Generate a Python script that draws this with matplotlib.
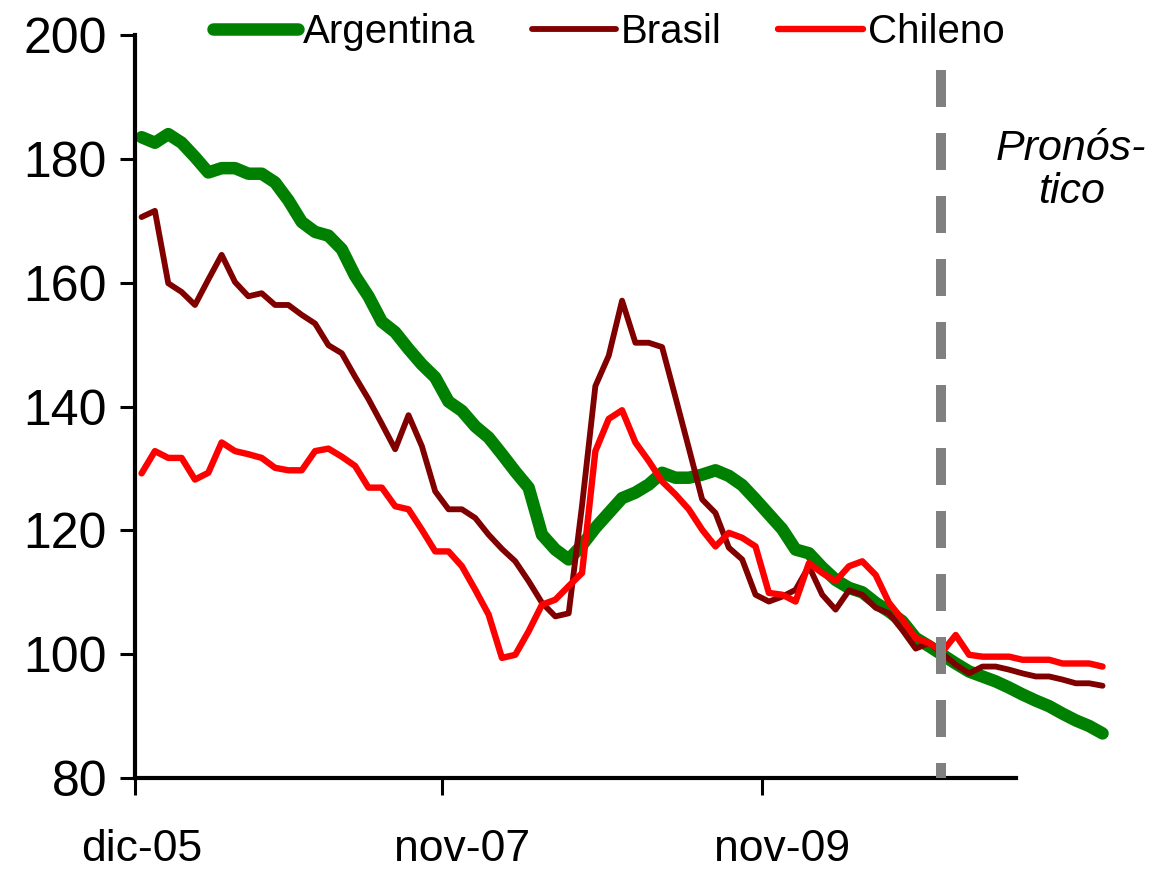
import matplotlib
matplotlib.use("Agg")
import matplotlib.pyplot as plt
import numpy as np

plt.rcParams['font.family'] = ['Liberation Sans', 'DejaVu Sans']

# monthly index values, dic-05 .. dic-11
argentina = [183.5, 182.6, 184.0, 182.6, 180.3, 177.8, 178.5, 178.5, 177.6, 177.6,
             176.2, 173.3, 169.8, 168.2, 167.6, 165.4, 161.1, 157.8, 153.7, 152.0,
             149.3, 146.8, 144.7, 140.8, 139.3, 136.8, 135.0, 132.3, 129.5, 126.9,
             119.3, 116.9, 115.3, 117.6, 120.4, 122.8, 125.2, 126.1, 127.4, 129.3,
             128.5, 128.5, 129.0, 129.7, 128.8, 127.3, 125.0, 122.6, 120.2, 116.9,
             116.3, 114.0, 112.0, 110.7, 110.0, 108.3, 106.9, 105.3, 102.6, 101.3,
             99.9, 98.5, 97.2, 96.4, 95.6, 94.6, 93.5, 92.5, 91.6, 90.4,
             89.3, 88.4, 87.2]
brasil = [170.6, 171.6, 159.9, 158.5, 156.4, 160.5, 164.5, 160.1, 157.8, 158.3,
          156.4, 156.4, 154.8, 153.4, 149.9, 148.6, 144.8, 141.2, 137.2, 133.1,
          138.6, 133.6, 126.3, 123.4, 123.4, 122.0, 119.3, 117.0, 115.0, 111.8,
          108.3, 106.1, 106.6, 124.0, 143.3, 148.2, 157.1, 150.3, 150.3, 149.6,
          141.5, 133.3, 125.0, 122.8, 117.2, 115.3, 109.6, 108.5, 109.3, 110.4,
          114.2, 109.6, 107.2, 110.3, 109.6, 107.5, 106.6, 103.9, 100.9, 101.8,
          100.1, 98.3, 96.9, 98.0, 98.0, 97.5, 96.9, 96.4, 96.4, 95.9,
          95.3, 95.3, 94.9]
chileno = [129.2, 132.8, 131.7, 131.7, 128.2, 129.3, 134.2, 132.8, 132.3, 131.7,
           130.1, 129.7, 129.7, 132.8, 133.2, 131.9, 130.4, 126.9, 126.9, 123.9,
           123.4, 120.1, 116.6, 116.6, 114.2, 110.4, 106.4, 99.4, 99.9, 103.7,
           108.0, 108.8, 111.0, 113.1, 132.8, 138.0, 139.4, 134.2, 131.2, 127.9,
           125.8, 123.4, 120.1, 117.4, 119.6, 118.8, 117.4, 109.9, 109.6, 108.5,
           114.7, 113.1, 111.8, 114.2, 115.0, 112.8, 108.3, 105.6, 102.6, 101.8,
           100.4, 103.1, 99.9, 99.6, 99.6, 99.6, 99.1, 99.1, 99.1, 98.5,
           98.5, 98.5, 98.0]

tick_labels = ['dic-05', 'nov-07', 'nov-09']
label_pos = [0, 24, 48]
tick_pos = [-0.5, 22.5, 46.5]
forecast_start = 59.9

x = np.arange(len(argentina))

fig = plt.figure(figsize=(11.53, 8.69), dpi=100)
ax = fig.add_axes([0.117, 0.1047, 0.764, 0.855])

ax.plot(x, argentina, color='#008000', lw=9, label='Argentina',
        solid_capstyle='round', solid_joinstyle='round', clip_on=False, zorder=2)
ax.plot(x, brasil, color='#800000', lw=4.2, label='Brasil',
        solid_capstyle='round', solid_joinstyle='round', clip_on=False, zorder=3)
ax.plot(x, chileno, color='#FF0000', lw=4.6, label='Chileno',
        solid_capstyle='round', solid_joinstyle='round', clip_on=False, zorder=4)
ax.plot([forecast_start, forecast_start], [194.3, 80], color='#808080', lw=7.2,
        dashes=(3.7, 2.6), clip_on=False, zorder=5)

ax.set_xlim(-0.5, 65.5)
ax.set_ylim(80, 200)
ax.set_yticks(np.arange(80, 201, 20))

ax.set_xticks(tick_pos)
ax.set_xticklabels([])
ax.set_xticks(label_pos, minor=True)
ax.set_xticklabels(tick_labels, minor=True)
ax.tick_params(axis='x', which='major', direction='out', length=12, width=2.2)
ax.tick_params(axis='x', which='minor', length=0, pad=37, labelsize=32)
ax.tick_params(axis='y', direction='out', length=11, width=2.2, pad=9, labelsize=36)

for s in ['top', 'right']:
    ax.spines[s].set_visible(False)
for s in ['left', 'bottom']:
    ax.spines[s].set_linewidth(3)

fig.text(0.929, 0.804, 'Pronós-\ntico', ha='center', va='center',
         fontsize=31, style='italic', linespacing=1.1)

fig.legend(loc='center', bbox_to_anchor=(0.528, 0.963), ncol=3, frameon=False,
           fontsize=29, handlelength=2.1, handletextpad=0.12, columnspacing=1.4)

fig.savefig('out.png', dpi=100)
